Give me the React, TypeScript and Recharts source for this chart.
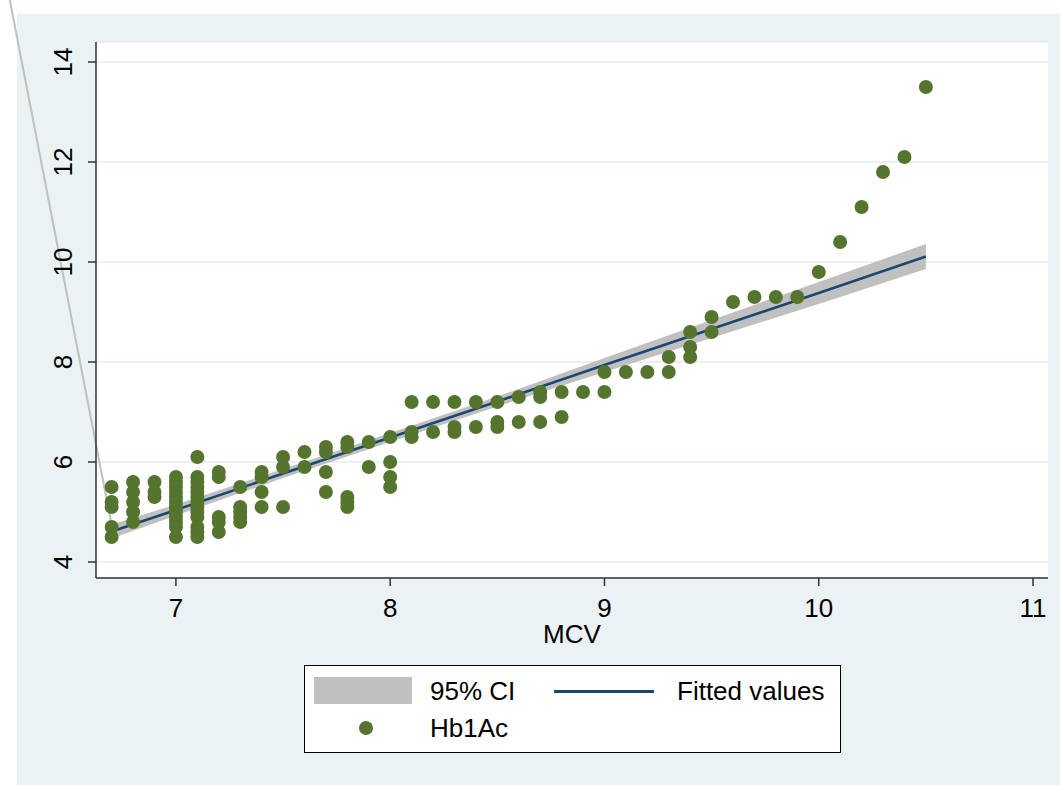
import {
  ComposedChart,
  Area,
  Line,
  Scatter,
  XAxis,
  YAxis,
  CartesianGrid,
  ReferenceLine,
} from 'recharts'

// MCV levels and the Hb1Ac readings observed at each level
const mcvLevels = [
  6.7, 6.8, 6.9, 7.0, 7.1, 7.2, 7.3, 7.4, 7.5, 7.6, 7.7, 7.8, 7.9, 8.0, 8.1, 8.2, 8.3, 8.4, 8.5, 8.6,
  8.7, 8.8, 8.9, 9.0, 9.1, 9.2, 9.3, 9.4, 9.5, 9.6, 9.7, 9.8, 9.9, 10.0, 10.1, 10.2, 10.3, 10.4, 10.5,
]
const hb1acByLevel = [
  [5.5, 5.2, 5.1, 4.7, 4.5],
  [5.6, 5.4, 5.2, 5.0, 4.8],
  [5.6, 5.4, 5.3],
  [5.7, 5.6, 5.5, 5.4, 5.3, 5.2, 5.1, 5.0, 4.9, 4.8, 4.7, 4.5],
  [6.1, 5.7, 5.6, 5.5, 5.4, 5.3, 5.2, 5.1, 5.0, 4.9, 4.7, 4.6, 4.5],
  [5.8, 5.7, 4.9, 4.8, 4.6],
  [5.5, 5.1, 5.0, 4.9, 4.8],
  [5.8, 5.7, 5.4, 5.1],
  [6.1, 5.9, 5.1],
  [6.2, 5.9],
  [6.3, 6.2, 5.8, 5.4],
  [6.4, 6.3, 5.3, 5.2, 5.1],
  [6.4, 5.9],
  [6.5, 6.0, 5.7, 5.5],
  [7.2, 6.6, 6.5],
  [7.2, 6.6],
  [7.2, 6.7, 6.6],
  [7.2, 6.7],
  [7.2, 6.8, 6.7],
  [7.3, 6.8],
  [7.4, 7.3, 6.8],
  [7.4, 6.9],
  [7.4],
  [7.8, 7.4],
  [7.8],
  [7.8],
  [8.1, 7.8],
  [8.6, 8.3, 8.1],
  [8.9, 8.6],
  [9.2],
  [9.3],
  [9.3],
  [9.3],
  [9.8],
  [10.4],
  [11.1],
  [11.8],
  [12.1],
  [13.5],
]

// fitted line and 95% CI band
const fitX = [6.7, 7.0, 7.5, 8.0, 8.5, 9.0, 9.5, 10.0, 10.5]
const fitY = [4.61, 5.04, 5.77, 6.49, 7.21, 7.94, 8.66, 9.38, 10.11]
const ciLow = [4.47, 4.93, 5.68, 6.4, 7.11, 7.8, 8.48, 9.16, 9.86]
const ciHigh = [4.75, 5.15, 5.86, 6.58, 7.31, 8.08, 8.84, 9.6, 10.36]

// stray edge of the CI polygon running off the plot
const strayEdge = [
  { x: 6.222, y: 15.3 },
  { x: 6.7, y: 4.74 },
]

const xTicks = [7, 8, 9, 10, 11]
const yTicks = [4, 6, 8, 10, 12, 14]

const FONT = '"Liberation Sans", Arial, sans-serif'
const GREEN = '#55752f'
const NAVY = '#1a476f'
const CI_GRAY = '#c0c0c0'

const points = mcvLevels.flatMap((x, i) => hb1acByLevel[i].map((y) => ({ x, y })))
const fitData = fitX.map((x, i) => ({ x, fit: fitY[i] }))
const ciData = fitX.map((x, i) => ({ x, ci: [ciLow[i], ciHigh[i]] }))

const YTick = ({ x, y, payload }: any) => (
  <text
    x={x}
    y={y}
    transform={`rotate(-90 ${x} ${y})`}
    textAnchor="middle"
    fontSize={26}
    fontFamily={FONT}
    fill="#000"
  >
    {payload.value}
  </text>
)

const XTick = ({ x, y, payload }: any) => (
  <text x={x} y={y} dy="0.71em" textAnchor="middle" fontSize={26} fontFamily={FONT} fill="#000">
    {payload.value}
  </text>
)

const XTitle = ({ viewBox }: any) => (
  <text
    x={viewBox.x + viewBox.width / 2}
    y={viewBox.y + 65}
    textAnchor="middle"
    fontSize={26}
    fontFamily={FONT}
    fill="#000"
  >
    MCV
  </text>
)

const Dot = (p: any) => <circle cx={p.cx} cy={p.cy} r={7} fill={GREEN} />

function LegendBox() {
  const text = { position: 'absolute' as const, fontSize: 26, fontFamily: FONT, color: '#000', lineHeight: '30px' }
  return (
    <div
      style={{
        position: 'absolute',
        left: 304,
        top: 665,
        width: 535,
        height: 86,
        background: '#fff',
        border: '1px solid #000',
      }}
    >
      <div style={{ position: 'absolute', left: 9, top: 11, width: 98, height: 27, background: CI_GRAY }} />
      <div style={{ ...text, left: 125, top: 10 }}>95% CI</div>
      <div style={{ position: 'absolute', left: 249, top: 24, width: 100, height: 2.5, background: NAVY }} />
      <div style={{ ...text, left: 372, top: 10 }}>Fitted values</div>
      <div
        style={{
          position: 'absolute',
          left: 54,
          top: 55,
          width: 14,
          height: 14,
          borderRadius: 7,
          background: GREEN,
        }}
      />
      <div style={{ ...text, left: 125, top: 47 }}>Hb1Ac</div>
    </div>
  )
}

export default function App() {
  return (
    <div style={{ position: 'absolute', left: 0, top: 0, width: 1060, height: 785, background: '#fff' }}>
      <div style={{ position: 'absolute', left: 17, top: 14, width: 1043, height: 771, background: '#eaf2f3' }} />
      <div style={{ position: 'absolute', left: 0, top: 0 }}>
        <ComposedChart
          width={1060}
          height={785}
          margin={{ top: 42, right: 12, bottom: 137, left: 56 }}
          style={{ overflow: 'visible' }}
        >
          <CartesianGrid vertical={false} stroke="#e3ecee" strokeWidth={1.5} fill="#fff" />
          <XAxis
            type="number"
            dataKey="x"
            domain={[6.627, 11.07]}
            ticks={xTicks}
            allowDataOverflow
            height={70}
            tickSize={8}
            tickMargin={13}
            tick={<XTick />}
            axisLine={{ stroke: '#333', strokeWidth: 1.5 }}
            tickLine={{ stroke: '#333', strokeWidth: 1.5 }}
            label={<XTitle />}
          />
          <YAxis
            type="number"
            domain={[3.68, 14.4]}
            ticks={yTicks}
            allowDataOverflow
            width={40}
            tickSize={8}
            tickMargin={16}
            tick={<YTick />}
            axisLine={{ stroke: '#333', strokeWidth: 1.5 }}
            tickLine={{ stroke: '#333', strokeWidth: 1.5 }}
          />
          <Area
            data={ciData}
            dataKey="ci"
            type="linear"
            stroke="none"
            fill={CI_GRAY}
            fillOpacity={1}
            isAnimationActive={false}
          />
          <ReferenceLine segment={strayEdge} stroke={CI_GRAY} strokeWidth={2} ifOverflow="visible" />
          <Line
            data={fitData}
            dataKey="fit"
            type="linear"
            stroke={NAVY}
            strokeWidth={2.5}
            dot={false}
            activeDot={false}
            isAnimationActive={false}
          />
          <Scatter data={points} dataKey="y" shape={Dot} isAnimationActive={false} />
        </ComposedChart>
      </div>
      <LegendBox />
    </div>
  )
}
